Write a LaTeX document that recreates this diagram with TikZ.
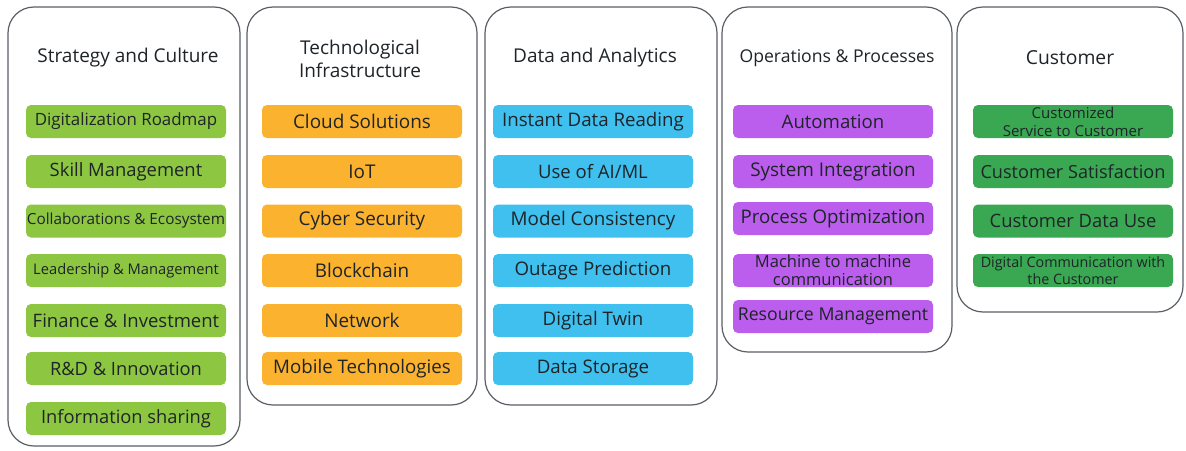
\documentclass[tikz,border=0pt]{standalone}
\usepackage{fontspec}
\setmainfont{Open Sans}
\definecolor{outline}{HTML}{5A5F66}
\definecolor{txt}{HTML}{1E2428}
\definecolor{cgreen}{HTML}{8DC641}
\definecolor{corange}{HTML}{FBB22F}
\definecolor{cblue}{HTML}{3FC0EE}
\definecolor{cpurple}{HTML}{BB5EEE}
\definecolor{cdgreen}{HTML}{3AA852}
\newcommand\fsz[1]{\fontsize{#1}{#1}\selectfont}
\tikzset{
  column/.style={draw=outline, line width=1.2pt, rounded corners=26pt, fill=white, inner sep=0pt},
  coltitle/.style={text=txt, align=center, inner sep=0pt},
  item/.style={rounded corners=5pt, minimum width=200pt, minimum height=33pt, inner sep=0pt, text=txt, align=center},
}
\begin{document}
\begin{tikzpicture}[x=1pt,y=-1pt]
\useasboundingbox[fill=white] (0,0) rectangle (1186,450);
% columns
\node[column, minimum width=232pt, minimum height=439pt] (c1) at (124,226.5) {};
\node[column, minimum width=230pt, minimum height=398pt] (c2) at (362,206) {};
\node[column, minimum width=232pt, minimum height=398pt] (c3) at (601,206) {};
\node[column, minimum width=230pt, minimum height=345pt] (c4) at (837,179.5) {};
\node[column, minimum width=226pt, minimum height=305pt] (c5) at (1070,159.5) {};
% titles
\node[coltitle, font=\fsz{19}] (t1) at (128,58) {Strategy and Culture};
\node[coltitle, font=\fsz{19}, align=center] (t2) at (360,59) {Technological\\[3pt]Infrastructure};
\node[coltitle, font=\fsz{19}] (t3) at (595,58) {Data and Analytics};
\node[coltitle, font=\fsz{17.6}] (t4) at (837,58) {Operations \& Processes};
\node[coltitle, font=\fsz{19.3}] (t5) at (1070,58) {Customer};
% column 1
\begin{scope}[every node/.append style={item, fill=cgreen}]
\node[font=\fsz{16.9}] (a1) at (126,121.5) {Digitalization Roadmap};
\node[font=\fsz{18.4}] (a2) at (126,171.5) {Skill Management};
\node[font=\fsz{15.3}] (a3) at (126,221) {Collaborations \& Ecosystem};
\node[font=\fsz{14.7}] (a4) at (126,270.5) {Leadership \& Management};
\node[font=\fsz{18.5}] (a5) at (126,320.5) {Finance \& Investment};
\node[font=\fsz{18.3}] (a6) at (126,368.5) {R\&D \& Innovation};
\node[font=\fsz{18.3}] (a7) at (126,418.5) {Information sharing};
\end{scope}
% column 2
\begin{scope}[every node/.append style={item, fill=corange}]
\node[font=\fsz{18.9}] (b1) at (362,121.5) {Cloud Solutions};
\node[font=\fsz{18.9}] (b2) at (362,171.5) {IoT};
\node[font=\fsz{18.9}] (b3) at (362,221) {Cyber Security};
\node[font=\fsz{18.9}] (b4) at (362,270.5) {Blockchain};
\node[font=\fsz{18.9}] (b5) at (362,320.5) {Network};
\node[font=\fsz{18.7}] (b6) at (362,368.5) {Mobile Technologies};
\end{scope}
% column 3
\begin{scope}[every node/.append style={item, fill=cblue}]
\node[font=\fsz{18.7}] (d1) at (593,121.5) {Instant Data Reading};
\node[font=\fsz{18.5}] (d2) at (593,171.5) {Use of AI/ML};
\node[font=\fsz{18.8}] (d3) at (593,221) {Model Consistency};
\node[font=\fsz{18.7}] (d4) at (593,270.5) {Outage Prediction};
\node[font=\fsz{18.7}] (d5) at (593,320.5) {Digital Twin};
\node[font=\fsz{18.7}] (d6) at (593,368.5) {Data Storage};
\end{scope}
% column 4
\begin{scope}[every node/.append style={item, fill=cpurple}]
\node[font=\fsz{18.6}] (e1) at (833,121.5) {Automation};
\node[font=\fsz{18.9}] (e2) at (833,171.5) {System Integration};
\node[font=\fsz{18.7}] (e3) at (833,218.5) {Process Optimization};
\node[font=\fsz{16.5}] (e4) at (833,270.5) {Machine to machine\\[2pt]communication};
\node[font=\fsz{17.7}] (e5) at (833,316.5) {Resource Management};
\end{scope}
% column 5
\begin{scope}[every node/.append style={item, fill=cdgreen}]
\node[font=\fsz{15}] (f1) at (1073,121.5) {Customized\\[3pt]Service to Customer};
\node[font=\fsz{18.1}] (f2) at (1073,171.5) {Customer Satisfaction};
\node[font=\fsz{18.4}] (f3) at (1073,221) {Customer Data Use};
\node[font=\fsz{14.3}] (f4) at (1073,270.5) {Digital Communication with\\[2pt]the Customer};
\end{scope}
\end{tikzpicture}
\end{document}
